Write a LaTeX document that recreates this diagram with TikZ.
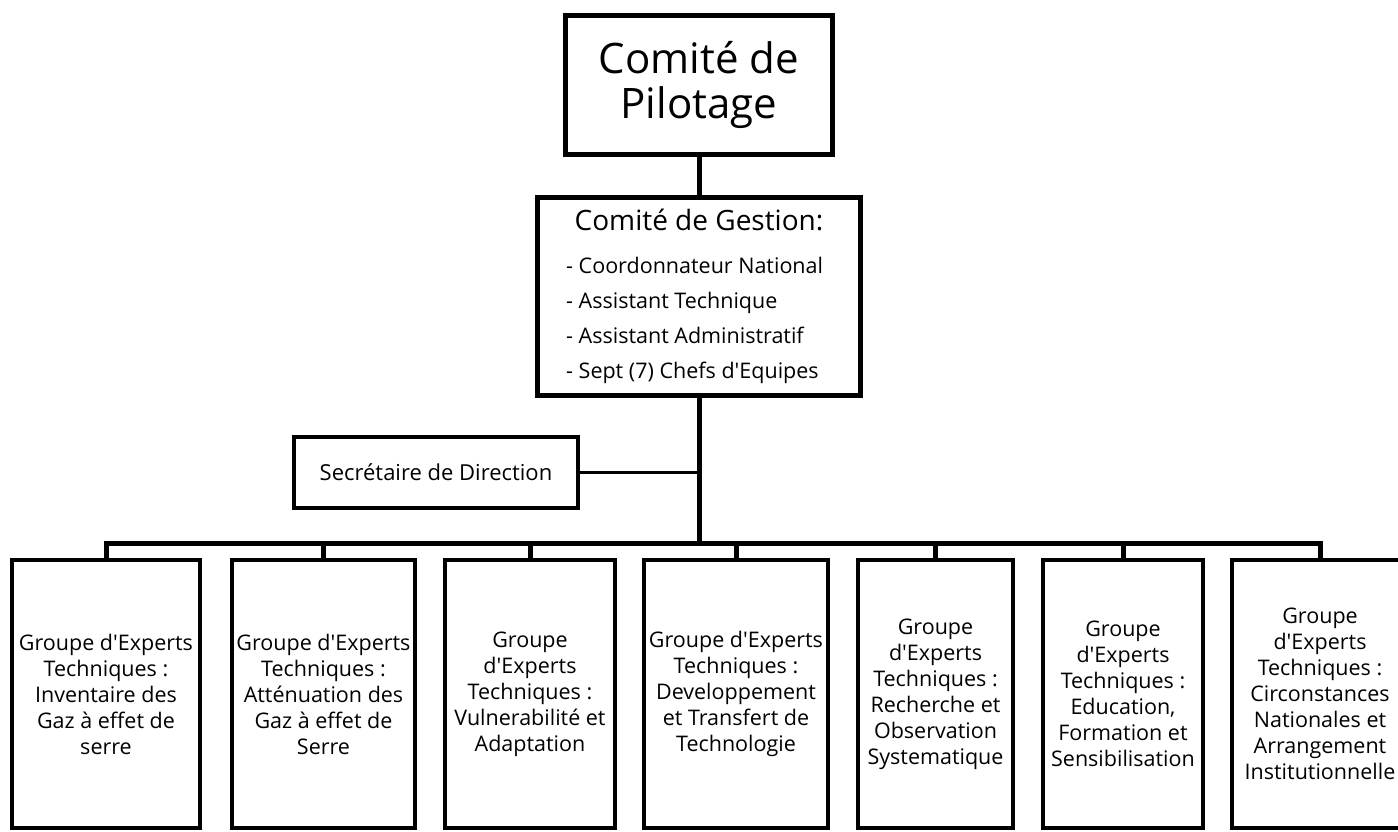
\documentclass[tikz,border=0pt]{standalone}
\usepackage{fontspec}
\setmainfont{Open Sans}[Ligatures=TeXOff]
\begin{document}
\begin{tikzpicture}[x=1pt,y=-1pt,
  box/.style={draw=black,line width=#1,fill=white,inner sep=0pt,align=center},
  box/.default=4pt,
  conn/.style={draw=black,line width=5pt},
  thinconn/.style={draw=black,line width=3pt},
  grp/.style={box=4pt,minimum height=268pt,font=\fontsize{21.5}{26}\selectfont}]
\useasboundingbox (0,0) rectangle (1398,832);
\clip (0,0) rectangle (1398,832);
\fill[white] (0,0) rectangle (1398,832);
% top
\node[box=5pt,minimum width=267pt,minimum height=139pt,font=\fontsize{42}{45}\selectfont] (pil) at (699,85) {Comité de\\Pilotage};
% gestion
\node[box=5pt,minimum width=323pt,minimum height=198pt,anchor=center] (ges) at (699,296.5) {};
\node[font=\fontsize{28}{30}\selectfont,anchor=base] (gtitle) at (699,230) {Comité de Gestion:};
\node[font=\fontsize{21.5}{35}\selectfont,anchor=base west,align=left,inner sep=0pt] (glist) at (566,378)
  {- Coordonnateur National\\- Assistant Technique\\- Assistant Administratif\\- Sept (7) Chefs d'Equipes};
% secretaire
\node[box=4pt,minimum width=284pt,minimum height=71pt,font=\fontsize{22}{24}\selectfont] (sec) at (436,472.5) {Secrétaire de Direction};
% groups
\node[grp,minimum width=188pt] (g1) at (106,694) {Groupe d'Experts\\Techniques :\\Inventaire des\\Gaz à effet de\\serre};
\node[grp,minimum width=183pt] (g2) at (323.5,694) {Groupe d'Experts\\Techniques :\\Atténuation des\\Gaz à effet de\\Serre};
\node[grp,minimum width=170pt] (g3) at (530,694) {Groupe\\d'Experts\\Techniques :\\Vulnerabilité et\\Adaptation};
\node[grp,minimum width=184pt] (g4) at (736,694) {Groupe d'Experts\\Techniques :\\Developpement\\et Transfert de\\Technologie};
\node[grp,minimum width=155pt] (g5) at (935.5,694) {Groupe\\d'Experts\\Techniques :\\Recherche et\\Observation\\Systematique};
\node[grp,minimum width=160pt] (g6) at (1123,694) {Groupe\\d'Experts\\Techniques :\\Education,\\Formation et\\Sensibilisation};
\node[grp,minimum width=176pt] (g7) at (1320,694) {Groupe\\d'Experts\\Techniques :\\Circonstances\\Nationales et\\Arrangement\\Institutionnelle};
% connectors
\coordinate (bus) at (699,543);
\draw[conn] (pil.south) -- (ges.north);
\draw[conn] (ges.south) -- (bus);
\draw[thinconn] (sec.east) -- (sec.east -| ges.south);
\draw[conn] (g1.north) -- (g1.north |- bus) -- (g7.north |- bus) -- (g7.north);
\foreach \g in {g2,g3,g4,g5,g6} \draw[conn] (\g.north) -- (\g.north |- bus);
\end{tikzpicture}
\end{document}
